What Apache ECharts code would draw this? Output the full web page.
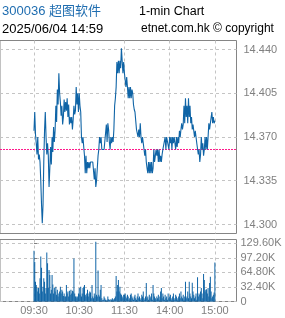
<!DOCTYPE html>
<html><head><meta charset="utf-8">
<script src="https://cdn.jsdelivr.net/npm/echarts@6/dist/echarts.min.js"></script>
<style>html,body{margin:0;padding:0;background:#fff}#c{width:285px;height:318px}</style>
</head><body><div id="c"></div>
<script>
const titleMain = '300036 超图软件';
const titleChart = '1-min Chart';
const titleDate = '2025/06/04 14:59';
const titleCopy = 'etnet.com.hk © copyright';

const tickMinutes = [0, 60, 120, 180, 240];
const tickLabels = ['09:30', '10:30', '11:30', '14:00', '15:00'];
const priceTicks = [14.300, 14.335, 14.370, 14.405, 14.440];
const volTicks = [0, 32.4, 64.8, 97.2, 129.6];
const prevClose = 14.360;

// 09:30 .. 11:30 (121 minutes)
const amPrice = [14.375,14.390,14.372, 14.365,14.356,14.370, 14.352,14.356,14.350, 14.335,14.316, 14.301, 14.316,
 14.350,14.375,14.390, 14.370,14.356, 14.365,14.355, 14.330,14.345, 14.362,14.348, 14.370,14.358,
 14.378,14.366,14.375, 14.395,14.382, 14.408,14.396, 14.421,14.405, 14.398,14.387,14.395, 14.380,14.386,
 14.400,14.390,14.398,14.391, 14.401,14.386,14.396, 14.380,14.386,14.381, 14.386,14.376,14.384,
 14.395,14.388,14.391, 14.410,14.396,14.405, 14.390,14.405,14.395, 14.390,14.370, 14.365,14.370,
 14.362,14.355, 14.341,14.355, 14.341,14.350, 14.345,14.350,14.345,14.350, 14.350,14.350,14.350,14.350,
 14.336,14.345, 14.330,14.335, 14.345,14.355, 14.360,14.370, 14.365,14.370,
 14.360,14.360,14.360,14.360,14.360,14.360, 14.380,14.366, 14.381,14.376, 14.366,14.360,14.370,
 14.365,14.370,14.366, 14.376,14.395, 14.401,14.410, 14.430,14.421, 14.431,14.421, 14.431,14.425,
 14.441,14.431, 14.421,14.430,14.421];
// 13:01 .. 15:00 (120 minutes)
const pmPrice = [14.421,14.410,14.418,14.410, 14.401,14.410,14.401, 14.410,14.401,14.408, 14.405,14.396,
 14.392,14.390,14.390, 14.376, 14.376,14.370,14.376,14.370, 14.381,14.370, 14.365,14.370, 14.365,14.360,
 14.355,14.360, 14.350,14.345, 14.341,14.350,14.341, 14.350,14.341,14.350, 14.341,14.345, 14.360,14.350,
 14.355,14.360,14.355,14.360, 14.350,14.360,14.350, 14.355,14.350,14.356, 14.360,14.360,14.360,
 14.370,14.360, 14.370,14.370,14.370, 14.360,14.370, 14.365,14.370, 14.360,14.370,14.365, 14.370,14.370,
 14.360,14.370,14.362, 14.370,14.365, 14.375,14.370,14.376, 14.381,14.376,14.380, 14.395,14.381,
 14.401,14.386, 14.395,14.381, 14.401,14.386, 14.395,14.381, 14.386,14.376,14.380, 14.381,14.370,14.375,
 14.370,14.365, 14.365,14.356, 14.360,14.350,14.356, 14.370,14.360,14.365, 14.355,14.360,
 14.370,14.360,14.370, 14.360,14.370, 14.381,14.376, 14.381,14.381, 14.390,14.381, 14.386,14.381,14.383];

// volume in thousands
const amVol = [113,88,44,37,30,22,30,18,52,100, 75,22,33,52,44,18,30,109,85,30,
 70,59,18,26,59,38,18,30,22,33, 15,26,11,18,22,33,18,26,22,12,
 18,11,11,37,18,22,11,24,15,26, 18,24,22,96,18,11,11,7,11,18,
 30,15,33,11,18,30,33,37,15,11, 18,26,11,18,22,20,7,37,11,7,
 18,11,133,15,11,69,15,11,26,37, 7,3,4,11,7,4,2,4,11,5,
 4,2,5,4,7,4,5,7,11,57, 22,37,48,22,33,18,15,11,7,15, 15];
const pmVol = [18,11,7,15,11,4,7,15,18,11,7,4,11,15,7,4,11,18,7,11,4,7,15,11,22,7,4,11,
 41, 7,11,4,15,7,11,18,4, 37, 18,11,7,4,11,7,15,4,11,22, 30,
 7,18,11,4,15,7,11,4,18,7,11,15,4,7,11,18,4,7,15,11,4,7,11,18,7,22,11,7,15,4,11,
 44, 7,11,22,7, 44, 18,11,7, 42, 22,15,7,11,18,4, 54, 11,18,15,22, 30, 18,7, 61, 48,
 22,26,27,18,30,11, 41, 55, 22,7,11,15, 20, 87];

const priceData = [], volData = [];
amPrice.forEach((v, i) => priceData.push([i, v]));
pmPrice.forEach((v, i) => priceData.push([121 + i, v]));
amVol.forEach((v, i) => volData.push([i, v]));
pmVol.forEach((v, i) => volData.push([121 + i, v]));

const gray = '#808080', gridC = '#c4c4c4', blue = '#0f64a6', pink = '#ff1a8c';
const font = 'Liberation Sans';
const xMin = -45.1, xMax = 268.7;
const prevData = [[xMin, prevClose], [xMax, prevClose]];

const chart = echarts.init(document.getElementById('c'));
chart.setOption({
  animation: false,
  backgroundColor: '#fff',
  title: [
    {text: titleMain, left: 2, top: 5, padding: 0, textStyle: {color: '#1f6db0', fontSize: 13, fontWeight: 'normal', fontFamily: font + ', Noto Sans CJK SC'}},
    {text: titleChart, left: 139, top: 5, padding: 0, textStyle: {color: '#000', fontSize: 12.5, fontWeight: 'normal', fontFamily: font}},
    {text: titleDate, left: 2, top: 23, padding: 0, textStyle: {color: '#000', fontSize: 13, fontWeight: 'normal', fontFamily: font}},
    {text: titleCopy, left: 141, top: 23, padding: 0, textStyle: {color: '#000', fontSize: 12, fontWeight: 'normal', fontFamily: font}}
  ],
  grid: [
    {left: -2, right: 48.5, top: 40.5, height: 193, show: true, borderColor: '#858585', borderWidth: 1},
    {left: -2, right: 48.5, top: 239.5, height: 62, show: true, borderColor: '#858585', borderWidth: 1}
  ],
  xAxis: [
    {type: 'value', gridIndex: 0, min: xMin, max: xMax,
     axisLine: {show: false}, axisTick: {show: false, customValues: tickMinutes},
     axisLabel: {show: false, customValues: tickMinutes},
     splitLine: {show: true, lineStyle: {color: gridC, type: [3, 3], width: 1}}},
    {type: 'value', gridIndex: 1, min: xMin, max: xMax,
     axisLine: {show: false}, axisTick: {show: false, customValues: tickMinutes},
     axisLabel: {show: true, customValues: tickMinutes, margin: 4, color: gray, fontSize: 11, fontFamily: font,
       formatter: v => tickLabels[tickMinutes.indexOf(Math.round(v))] || ''},
     splitLine: {show: true, lineStyle: {color: gridC, type: [3, 3], width: 1}}}
  ],
  yAxis: [
    {type: 'value', gridIndex: 0, position: 'right', min: 14.2928, max: 14.4472,
     axisLine: {show: false}, axisTick: {show: false, customValues: priceTicks},
     axisLabel: {customValues: priceTicks, margin: 7, color: gray, fontSize: 11, fontFamily: font,
       formatter: v => v.toFixed(3)},
     splitLine: {show: true, lineStyle: {color: gridC, type: [3, 3], width: 1}}},
    {type: 'value', gridIndex: 1, position: 'right', min: 0, max: 138.06,
     axisLine: {show: false},
     axisTick: {show: true, inside: false, length: 3, customValues: volTicks, lineStyle: {color: gray}},
     axisLabel: {customValues: volTicks, margin: 4, color: gray, fontSize: 11, fontFamily: font,
       formatter: v => v === 0 ? '0' : v.toFixed(2) + 'K'},
     splitLine: {show: true, lineStyle: {color: gridC, type: [3, 3], width: 1}}}
  ],
  series: [
    {type: 'line', xAxisIndex: 0, yAxisIndex: 0, data: prevData, showSymbol: false, symbol: 'none',
     lineStyle: {color: pink, type: [2, 1], width: 1}, itemStyle: {color: pink}, z: 3, silent: true},
    {type: 'line', xAxisIndex: 0, yAxisIndex: 0, data: priceData, showSymbol: false, symbol: 'none',
     lineStyle: {color: blue, width: 1.1}, itemStyle: {color: blue}, z: 5},
    {type: 'bar', xAxisIndex: 1, yAxisIndex: 1, data: volData, barWidth: 1,
     itemStyle: {color: blue}, z: 5}
  ]
});
</script></body></html>
